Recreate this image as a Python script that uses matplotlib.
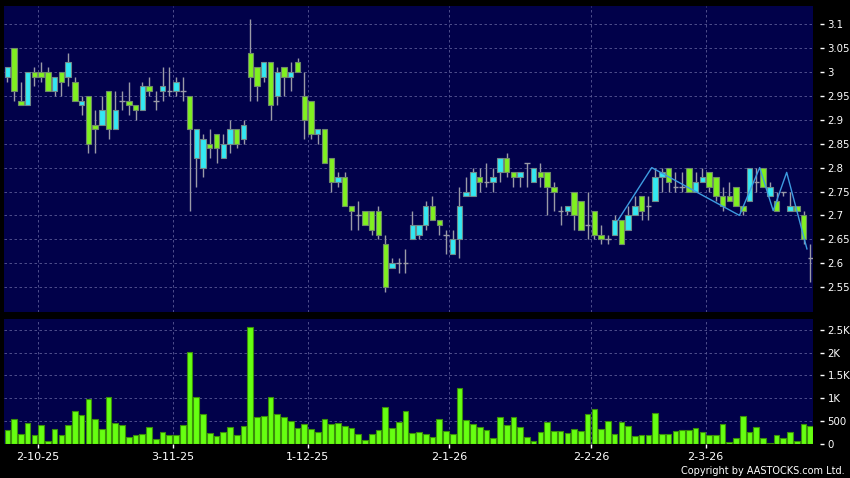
import matplotlib
matplotlib.use("Agg")
import matplotlib.pyplot as plt
import numpy as np

# daily OHLC, one candle per trading day
opens = [2.99, 3.05, 2.94, 2.93, 3.00, 3.00, 3.00, 2.96, 3.00, 2.99,
         2.98, 2.93, 2.95, 2.89, 2.89, 2.96, 2.88, 2.94, 2.94, 2.93,
         2.92, 2.97, 2.94, 2.96, 2.96, 2.96, 2.96, 2.95, 2.82, 2.80,
         2.85, 2.87, 2.82, 2.85, 2.88, 2.86, 3.04, 3.01, 2.99, 3.02,
         2.95, 3.01, 2.99, 3.02, 2.95, 2.94, 2.87, 2.88, 2.82, 2.77,
         2.78, 2.72, 2.70, 2.71, 2.71, 2.71, 2.64, 2.59, 2.60, 2.60,
         2.65, 2.66, 2.68, 2.72, 2.69, 2.66, 2.62, 2.65, 2.74, 2.74,
         2.78, 2.77, 2.77, 2.79, 2.82, 2.79, 2.78, 2.81, 2.77, 2.79,
         2.79, 2.76, 2.71, 2.71, 2.75, 2.73, 2.68, 2.71, 2.66, 2.65,
         2.66, 2.69, 2.67, 2.70, 2.74, 2.72, 2.73, 2.78, 2.80, 2.76,
         2.76, 2.80, 2.75, 2.77, 2.79, 2.78, 2.74, 2.74, 2.76, 2.72,
         2.73, 2.77, 2.80, 2.74, 2.73, 2.75, 2.71, 2.72, 2.70, 2.61]
highs = [3.01, 3.05, 2.98, 3.00, 3.01, 3.02, 3.01, 2.99, 3.00, 3.04,
         2.99, 2.95, 2.95, 2.92, 2.95, 2.96, 2.96, 2.96, 2.98, 2.93,
         2.98, 2.99, 2.96, 3.01, 3.01, 2.99, 2.99, 2.95, 2.88, 2.87,
         2.88, 2.87, 2.87, 2.90, 2.88, 2.90, 3.11, 3.01, 3.02, 3.02,
         3.01, 3.01, 3.02, 3.03, 3.00, 2.94, 2.88, 2.88, 2.82, 2.79,
         2.79, 2.72, 2.73, 2.71, 2.71, 2.72, 2.66, 2.61, 2.61, 2.63,
         2.71, 2.68, 2.73, 2.74, 2.69, 2.67, 2.67, 2.76, 2.78, 2.80,
         2.80, 2.81, 2.80, 2.82, 2.83, 2.79, 2.79, 2.81, 2.80, 2.81,
         2.79, 2.77, 2.72, 2.72, 2.75, 2.73, 2.75, 2.71, 2.68, 2.66,
         2.70, 2.69, 2.72, 2.74, 2.74, 2.74, 2.80, 2.80, 2.80, 2.79,
         2.79, 2.80, 2.79, 2.80, 2.79, 2.78, 2.76, 2.77, 2.76, 2.72,
         2.80, 2.80, 2.80, 2.77, 2.75, 2.75, 2.75, 2.72, 2.71, 2.64]
lows = [2.98, 2.94, 2.93, 2.93, 2.97, 2.98, 2.96, 2.95, 2.95, 2.97,
        2.94, 2.91, 2.83, 2.83, 2.89, 2.86, 2.88, 2.92, 2.91, 2.90,
        2.92, 2.95, 2.92, 2.94, 2.95, 2.95, 2.94, 2.71, 2.76, 2.78,
        2.82, 2.81, 2.82, 2.83, 2.84, 2.85, 2.94, 2.94, 2.98, 2.90,
        2.93, 2.95, 2.96, 3.00, 2.86, 2.86, 2.85, 2.81, 2.75, 2.76,
        2.72, 2.67, 2.67, 2.68, 2.66, 2.65, 2.54, 2.59, 2.58, 2.58,
        2.65, 2.65, 2.67, 2.69, 2.66, 2.62, 2.62, 2.61, 2.74, 2.74,
        2.75, 2.76, 2.75, 2.77, 2.78, 2.76, 2.76, 2.76, 2.77, 2.76,
        2.70, 2.71, 2.68, 2.70, 2.67, 2.67, 2.65, 2.65, 2.64, 2.64,
        2.66, 2.64, 2.67, 2.70, 2.69, 2.69, 2.73, 2.75, 2.75, 2.75,
        2.75, 2.75, 2.75, 2.77, 2.75, 2.73, 2.71, 2.73, 2.72, 2.70,
        2.73, 2.75, 2.76, 2.74, 2.71, 2.74, 2.71, 2.71, 2.64, 2.56]
closes = [3.01, 2.96, 2.93, 3.00, 2.99, 2.99, 2.96, 2.99, 2.98, 3.02,
          2.94, 2.94, 2.85, 2.88, 2.92, 2.88, 2.92, 2.94, 2.93, 2.92,
          2.97, 2.96, 2.94, 2.97, 2.96, 2.98, 2.96, 2.88, 2.88, 2.86,
          2.84, 2.84, 2.85, 2.88, 2.85, 2.89, 2.99, 2.97, 3.02, 2.93,
          3.00, 2.99, 3.00, 3.00, 2.90, 2.87, 2.88, 2.81, 2.77, 2.78,
          2.72, 2.71, 2.70, 2.68, 2.67, 2.66, 2.55, 2.60, 2.60, 2.60,
          2.68, 2.68, 2.72, 2.69, 2.68, 2.66, 2.65, 2.72, 2.75, 2.79,
          2.77, 2.77, 2.78, 2.82, 2.79, 2.78, 2.79, 2.81, 2.80, 2.78,
          2.76, 2.75, 2.71, 2.72, 2.70, 2.67, 2.68, 2.66, 2.65, 2.65,
          2.69, 2.64, 2.70, 2.72, 2.71, 2.72, 2.78, 2.79, 2.77, 2.76,
          2.76, 2.75, 2.77, 2.78, 2.76, 2.74, 2.72, 2.73, 2.72, 2.71,
          2.80, 2.77, 2.76, 2.76, 2.71, 2.75, 2.72, 2.71, 2.65, 2.61]
volumes = [290, 536, 218, 442, 181, 399, 65, 312, 181, 413,
           710, 623, 979, 529, 319, 1022, 442, 399, 138, 181,
           218, 362, 94, 247, 181, 188, 406, 2015, 1022, 660,
           232, 160, 254, 355, 181, 377, 2566, 573, 595, 1022,
           653, 580, 493, 334, 421, 326, 254, 544, 421, 442,
           392, 334, 218, 73, 218, 290, 812, 334, 464, 718,
           239, 261, 210, 145, 529, 276, 210, 1211, 522, 420,
           355, 290, 123, 573, 399, 580, 355, 138, 58, 247,
           479, 268, 268, 232, 326, 283, 653, 761, 319, 493,
           218, 479, 392, 167, 196, 181, 674, 203, 203, 268,
           297, 290, 348, 261, 196, 196, 420, 36, 123, 595,
           261, 362, 130, 15, 189, 123, 247, 65, 420, 384]

# first trading day of each month (candle index) and its label
month_idx = [5, 25, 45, 66, 87, 104]
month_labels = ["2-10-25", "3-11-25", "1-12-25", "2-1-26", "2-2-26", "2-3-26"]

# zigzag overlay: turning points (candle index, price)
zz_idx = [91, 96, 109, 112, 114, 116, 119]
zz_price = [2.69, 2.80, 2.70, 2.80, 2.71, 2.79, 2.63]

price_ticks = [3.1, 3.05, 3.0, 2.95, 2.9, 2.85, 2.8, 2.75, 2.7, 2.65, 2.6, 2.55]
vol_ticks = [0, 500, 1000, 1500, 2000, 2500]
vol_labels = ["0", "500", "1K", "1.5K", "2K", "2.5K"]

BG = "#01014a"
GRID = "#5a5a96"
UP = "#33e8f2"
DOWN = "#80f020"
WICK = "#9a9aa6"

o = np.array(opens); h = np.array(highs); l = np.array(lows); c = np.array(closes)
x = np.arange(len(o))
up = c > o
dn = c < o
flat = c == o

fig = plt.figure(figsize=(8.5, 4.78), dpi=100, facecolor="black")
ax = fig.add_axes([4/850, 1 - 312/478, 809/850, 306/478])
axv = fig.add_axes([4/850, 1 - 443.5/478, 809/850, 124.5/478], sharex=ax)

for a in (ax, axv):
    a.set_facecolor(BG)
    for s in a.spines.values():
        s.set_visible(False)
    a.spines["right"].set_position(("outward", 5))
    a.yaxis.tick_right()
    a.tick_params(axis="y", colors="white", length=3, width=1, pad=2.5, labelsize=7.3)
    a.grid(True, color=GRID, lw=0.6, ls=(0, (3, 3)))
    a.set_axisbelow(True)

# candles
ax.vlines(x, l, h, color=WICK, lw=1, zorder=2)
ax.bar(x[up], (c - o)[up], bottom=o[up], width=0.8, color=UP,
       edgecolor="#6f8a8a", lw=0.8, zorder=3)
ax.bar(x[dn], (o - c)[dn], bottom=c[dn], width=0.8, color=DOWN,
       edgecolor="#6f8a6a", lw=0.8, zorder=3)
ax.hlines(o[flat], x[flat] - 0.4, x[flat] + 0.4, color=WICK, lw=1, zorder=3)
ax.plot(np.array(zz_idx) - 0.5, zz_price, color="#3d9be0", lw=1, zorder=4)

ax.set_xlim(-0.5, 119.4)
ax.set_ylim(2.498, 3.138)
ax.set_yticks(price_ticks)
ax.set_yticklabels([f"{v:g}" for v in price_ticks])
ax.tick_params(axis="x", length=0, labelbottom=False)

# volume
axv.bar(x, volumes, width=0.84, color="#66ff11", edgecolor="#3a8f0a", lw=0.8, zorder=3)
axv.set_ylim(0, 2740)
axv.set_yticks(vol_ticks)
axv.set_yticklabels(vol_labels)
axv.set_xticks([m - 0.5 for m in month_idx])
axv.set_xticklabels(month_labels)
axv.tick_params(axis="x", colors="white", length=3, width=1, pad=3, labelsize=8)

fig.text(845/850, 1 - 471/478, "Copyright by AASTOCKS.com Ltd.", ha="right",
         va="center", color="white", fontsize=7)

fig.savefig("out.png", dpi=100, facecolor="black")
